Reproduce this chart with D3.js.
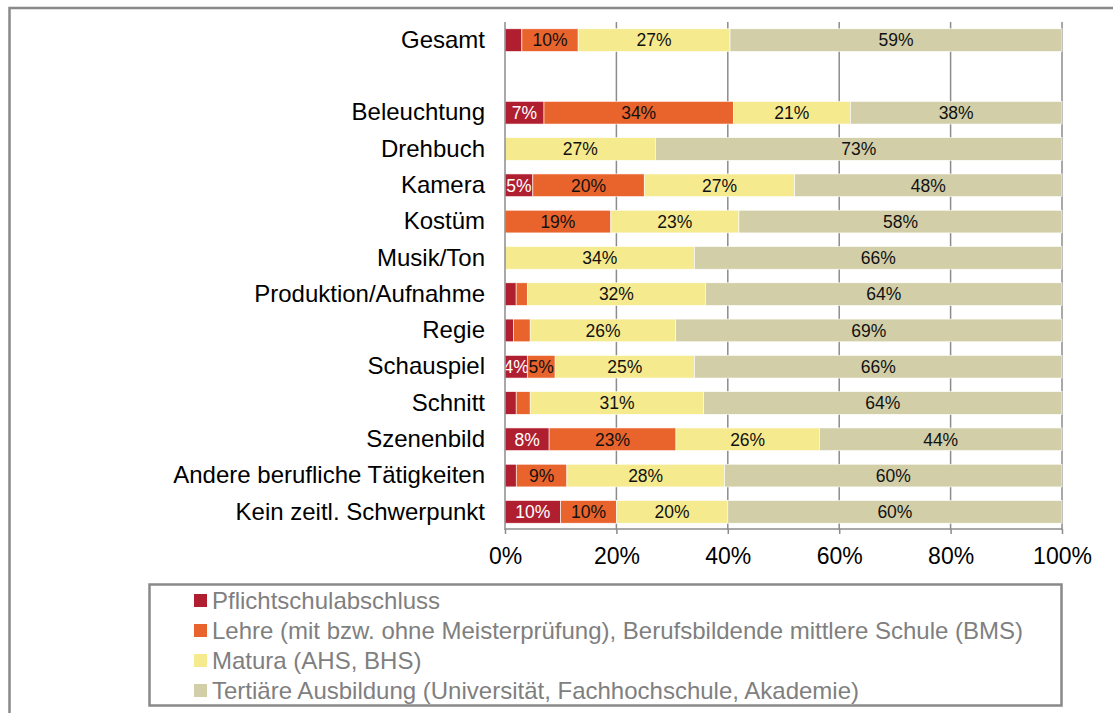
<!DOCTYPE html>
<html>
<head>
<meta charset="utf-8">
<script src="https://cdn.jsdelivr.net/npm/d3@7"></script>
<style>
	body { margin: 0; background: #fff; }
	text { font-family: 'Liberation Sans', Arial, sans-serif; }
</style>
</head>
<body>
<div id="chart"></div>
<script>
var categories = ['Gesamt', ' ', 'Beleuchtung', 'Drehbuch', 'Kamera', 'Kostüm', 'Musik/Ton',
	'Produktion/Aufnahme', 'Regie', 'Schauspiel', 'Schnitt', 'Szenenbild',
	'Andere berufliche Tätigkeiten', 'Kein zeitl. Schwerpunkt'];

// rows with data (the blank row after Gesamt is only a spacer)
var rowNames = ['Gesamt', 'Beleuchtung', 'Drehbuch', 'Kamera', 'Kostüm', 'Musik/Ton',
	'Produktion/Aufnahme', 'Regie', 'Schauspiel', 'Schnitt', 'Szenenbild',
	'Andere berufliche Tätigkeiten', 'Kein zeitl. Schwerpunkt'];

var pflicht  = [3, 7, 0, 5, 0, 0, 2, 1.5, 4, 2, 8, 2, 10];
var lehre    = [10, 34, 0, 20, 19, 0, 2, 3, 5, 2.5, 23, 9, 10];
var matura   = [27, 21, 27, 27, 23, 34, 32, 26, 25, 31, 26, 28, 20];
var tertiaer = [59, 38, 73, 48, 58, 66, 64, 69, 66, 64, 44, 60, 60];

var seriesNames = ['Pflichtschulabschluss',
	'Lehre (mit bzw. ohne Meisterprüfung), Berufsbildende mittlere Schule (BMS)',
	'Matura (AHS, BHS)',
	'Tertiäre Ausbildung (Universität, Fachhochschule, Akademie)'];
var seriesColors = ['#b01f2f', '#e9632c', '#f6ea8e', '#d2cea8'];
var tickValues = [0, 0.2, 0.4, 0.6, 0.8, 1];

var keys = ['pflicht', 'lehre', 'matura', 'tertiaer'];
var rows = rowNames.map(function(name, i) {
	return {name: name, pflicht: pflicht[i], lehre: lehre[i], matura: matura[i], tertiaer: tertiaer[i]};
});

var W = 1113, H = 713;
var svg = d3.select('#chart').append('svg')
	.attr('width', W)
	.attr('height', H);

// outer frame (only top and left edges visible)
svg.append('rect')
	.attr('x', 9.5).attr('y', 8)
	.attr('width', W + 20).attr('height', H + 20)
	.attr('fill', 'none')
	.attr('stroke', '#898989')
	.attr('stroke-width', 2.5);

var plot = {left: 505, right: 1062, top: 22, bottom: 530};

var x = d3.scaleLinear()
	.domain([0, 1])
	.range([plot.left, plot.right]);

var y = d3.scaleBand()
	.domain(categories)
	.range([plot.top, plot.bottom])
	.paddingInner(0.375)
	.paddingOuter(0.1875);

// gridlines
svg.append('g')
	.selectAll('line')
	.data(tickValues.slice(1))
	.enter()
	.append('line')
	.attr('x1', function(d) {return x(d)})
	.attr('x2', function(d) {return x(d)})
	.attr('y1', plot.top)
	.attr('y2', plot.bottom)
	.attr('stroke', '#8c8c8c')
	.attr('stroke-width', 1.5);

var stack = d3.stack()
	.keys(keys)
	.offset(d3.stackOffsetExpand);
var stacked = stack(rows);

var layers = svg.append('g')
	.selectAll('g')
	.data(stacked)
	.enter()
	.append('g')
	.attr('fill', function(d, i) {return seriesColors[i]});

layers.selectAll('rect')
	.data(function(d) {return d})
	.enter()
	.append('rect')
	.attr('x', function(d) {return x(d[0])})
	.attr('y', function(d) {return y(d.data.name)})
	.attr('width', function(d) {return x(d[1]) - x(d[0])})
	.attr('height', y.bandwidth())
	.attr('stroke', '#fff')
	.attr('stroke-width', 0.6);

// segment labels
layers.each(function(layer, li) {
	d3.select(this).selectAll('text')
		.data(layer.filter(function(d) {return d.data[layer.key] >= 4}))
		.enter()
		.append('text')
		.attr('x', function(d) {return (x(d[0]) + x(d[1])) / 2})
		.attr('y', function(d) {return y(d.data.name) + y.bandwidth() / 2})
		.attr('dy', '0.36em')
		.attr('text-anchor', 'middle')
		.attr('fill', li === 0 ? '#fff' : '#111')
		.style('font-size', '17.5px')
		.text(function(d) {return Math.round(d.data[layer.key]) + '%'});
});

// left axis line
svg.append('line')
	.attr('x1', plot.left).attr('x2', plot.left)
	.attr('y1', plot.top).attr('y2', plot.bottom)
	.attr('stroke', '#8c8c8c')
	.attr('stroke-width', 1.5);

// category labels
var yAxis = d3.axisLeft(y)
	.tickSize(0)
	.tickPadding(20);

svg.append('g')
	.attr('class', 'y-axis')
	.attr('transform', 'translate(' + plot.left + ',0)')
	.call(yAxis)
	.call(function(g) {g.select('.domain').remove()})
	.selectAll('text')
	.style('font-size', '24px')
	.style('font-family', "'Liberation Sans', Arial, sans-serif")
	.attr('fill', '#000');

// bottom axis
var xAxis = d3.axisBottom(x)
	.tickValues(tickValues)
	.tickSize(5)
	.tickPadding(14)
	.tickFormat(d3.format('.0%'));

var gx = svg.append('g')
	.attr('class', 'x-axis')
	.attr('transform', 'translate(0,' + (plot.bottom - 1) + ')')
	.call(xAxis);
gx.select('.domain')
	.attr('stroke', '#8c8c8c')
	.attr('stroke-width', 1.5)
	.attr('d', 'M' + plot.left + ',0H' + plot.right);
gx.selectAll('.tick line')
	.attr('stroke', '#8c8c8c')
	.attr('stroke-width', 1.5);
gx.selectAll('text')
	.style('font-size', '23px')
	.style('font-family', "'Liberation Sans', Arial, sans-serif")
	.attr('fill', '#000');

// legend
var legend = svg.append('g');
legend.append('rect')
	.attr('x', 149.5).attr('y', 584.5)
	.attr('width', 912).attr('height', 121)
	.attr('fill', '#fff')
	.attr('stroke', '#898989')
	.attr('stroke-width', 2.5);

var items = legend.selectAll('g.item')
	.data(seriesNames)
	.enter()
	.append('g')
	.attr('class', 'item')
	.attr('transform', function(d, i) {return 'translate(194,' + (600.5 + i * 30) + ')'});

items.append('rect')
	.attr('x', 0).attr('y', -6.5)
	.attr('width', 13).attr('height', 13)
	.attr('fill', function(d, i) {return seriesColors[i]});

items.append('text')
	.attr('x', 18)
	.attr('dy', '0.36em')
	.attr('fill', '#7f7f7f')
	.style('font-size', '24px')
	.text(function(d) {return d});
</script>
</body>
</html>
